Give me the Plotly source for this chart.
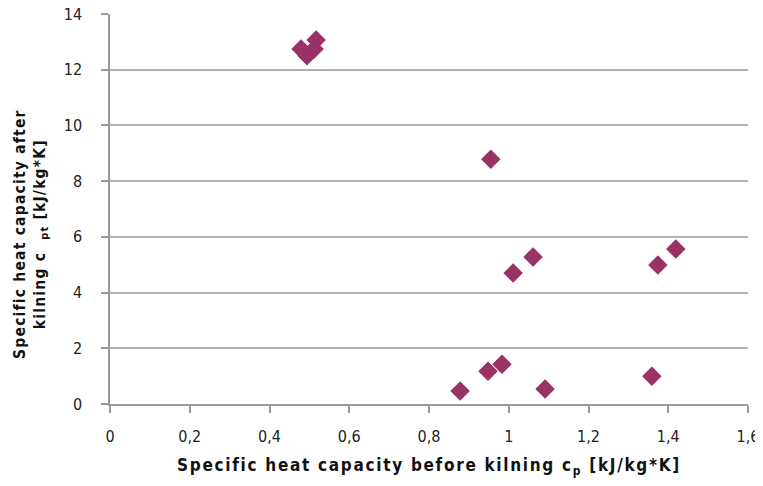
import plotly.graph_objects as go

# data
cp_before = [0.479, 0.494, 0.512, 0.517, 0.955, 1.011, 1.061,
             0.878, 0.948, 0.983, 1.091, 1.359, 1.374, 1.419]
cp_after = [12.74, 12.50, 12.74, 13.07, 8.79, 4.70, 5.28,
            0.47, 1.18, 1.43, 0.54, 1.00, 4.99, 5.56]

x_ticks = [0, 0.2, 0.4, 0.6, 0.8, 1.0, 1.2, 1.4, 1.6]
x_ticktext = ["0", "0,2", "0,4", "0,6", "0,8", "1", "1,2", "1,4", "1,6"]
y_ticks = [0, 2, 4, 6, 8, 10, 12, 14]

narrow = "Liberation Sans Narrow, Arial Narrow, DejaVu Sans Condensed"
tick_font = dict(family=narrow, size=16, color="#222222")
x_title_font = dict(family=narrow, size=17, color="#111111")
y_title_font = dict(family=narrow, size=15.5, color="#111111")

# Excel-like spaced bold titles
x_title = ('<span style="letter-spacing:1.7px"><b>Specific heat capacity before kilning c'
           '<sub>p</sub> [kJ/kg*K]</b></span>')
y_title = ('<span style="letter-spacing:1.2px"><b>Specific heat capacity after<br>'
           'kilning c  <sub>pt</sub> [kJ/kg*K]</b></span>')

fig = go.Figure()
fig.add_trace(go.Scatter(
    x=cp_before,
    y=cp_after,
    mode="markers",
    marker=dict(symbol="diamond", size=15, color="#993366"),
    showlegend=False,
))

# page body has an 8px margin, so the figure is a bit smaller than the window
fig.update_layout(
    width=755,
    height=470,
    margin=dict(l=102, r=15, t=6, b=74),
    paper_bgcolor="white",
    plot_bgcolor="white",
    separators=",.",
)

fig.add_annotation(
    text=y_title,
    xref="paper", yref="paper",
    x=0, y=0.436,
    xanchor="center", yanchor="middle",
    xshift=-79,
    textangle=-90,
    showarrow=False,
    font=y_title_font,
)

fig.update_xaxes(
    range=[0, 1.6],
    tickvals=x_ticks,
    ticktext=x_ticktext,
    showgrid=False,
    zeroline=False,
    showline=True,
    linecolor="#999999",
    linewidth=1.5,
    ticks="outside",
    ticklen=7,
    tickcolor="#999999",
    tickwidth=1.5,
    tickfont=tick_font,
    ticklabelstandoff=10,
    ticklabeloverflow="allow",
    automargin=False,
    title=dict(text=x_title, font=x_title_font, standoff=28),
)

fig.update_yaxes(
    range=[0, 14],
    tickvals=y_ticks,
    showgrid=True,
    gridcolor="#b0b0b0",
    gridwidth=1.5,
    zeroline=False,
    showline=True,
    linecolor="#999999",
    linewidth=1.5,
    ticks="outside",
    ticklen=7,
    tickcolor="#999999",
    tickwidth=1.5,
    tickfont=tick_font,
    ticklabelstandoff=16,
    ticklabeloverflow="allow",
    automargin=False,
)

fig.write_html("out.html")
